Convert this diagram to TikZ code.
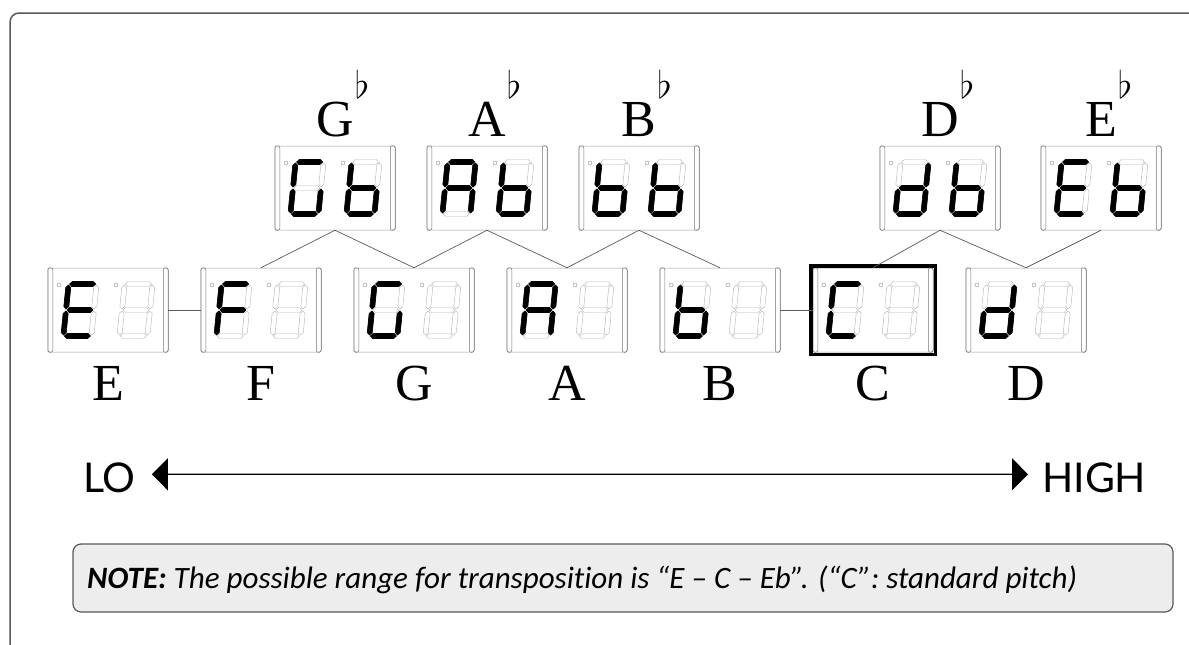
\documentclass[tikz,border=0pt]{standalone}
\usepackage{fix-cm}
\usepackage{fontspec}
\setmainfont{Liberation Serif}
\newfontfamily\rangefont{Lato}
\newfontfamily\notefont[Ligatures=NoCommon]{Carlito}
\usepackage{graphicx}
\usetikzlibrary{arrows.meta,calc}

\tikzset{
	dispbox/.style={draw=black!40, line width=0.5pt, rounded corners=2pt, minimum width=120pt, minimum height=84pt, inner sep=0pt},
	sidebar/.style={draw=black!55, line width=0.5pt, rounded corners=2pt},
	ledmark/.style={draw=black!45, line width=0.4pt},
	segoff/.style={draw=black!30, line width=0.4pt},
	segon/.style={draw=black, fill=black, line width=0.6pt, line join=round},
	link/.style={draw=black!65, line width=0.7pt},
	pitch/.style={font=\fontsize{52}{52}\selectfont, inner sep=0pt, anchor=base},
	rangetext/.style={font=\rangefont\fontsize{41}{41}\selectfont, inner sep=0pt, anchor=base west},
	pitchrange/.style={line width=1.2pt, {Triangle[length=16pt,width=32pt]}-{Triangle[length=16pt,width=32pt]}}
}

\def\hseg#1(#2,#3){\draw[#1] (#2-13,#3) -- (#2-10.5,#3-2.5) -- (#2+10.5,#3-2.5) -- (#2+13,#3) -- (#2+10.5,#3+2.5) -- (#2-10.5,#3+2.5) -- cycle;}
\def\vseg#1(#2,#3){\draw[#1] (#2,#3-12) -- (#2+2.5,#3-9.5) -- (#2+2.5,#3+9.5) -- (#2,#3+12) -- (#2-2.5,#3+9.5) -- (#2-2.5,#3-9.5) -- cycle;}
\def\sega#1{\hseg{#1}(0,-26)}
\def\segb#1{\vseg{#1}(14,-13)}
\def\segc#1{\vseg{#1}(14,13)}
\def\segd#1{\hseg{#1}(0,26)}
\def\sege#1{\vseg{#1}(-14,13)}
\def\segf#1{\vseg{#1}(-14,-13)}
\def\segg#1{\hseg{#1}(0,0)}
\def\segnone#1{}
\def\leddigit(#1,#2)#3{%
	\begin{scope}[shift={(#1,#2)}, xslant=0.1]
		\foreach \s in {a,b,c,d,e,f,g} {\csname seg\s\endcsname{segoff}}
		\foreach \s in {#3} {\csname seg\s\endcsname{segon}}
	\end{scope}}
\def\display(#1)(#2,#3)#4#5{%
	\node[dispbox] (#1) at (#2,#3) {};
	\draw[sidebar] (#1.north west) rectangle ([xshift=5pt]#1.south west);
	\draw[sidebar] (#1.north east) rectangle ([xshift=-5pt]#1.south east);
	\draw[ledmark] (#2-49,#3-25) circle (2pt);
	\draw[ledmark] (#2+8,#3-25) circle (2pt);
	\leddigit(#2-28,#3){#4}
	\leddigit(#2+28,#3){#5}}
\def\flatsign{\rlap{\kern1pt\raisebox{38pt}{\fontsize{38}{38}\selectfont$\flat$}}}

\begin{document}
\begin{tikzpicture}[x=1pt, y=-1pt]
			%%%%% START %%%%%
			
			\useasboundingbox (0,0) rectangle (1189,645);
			\clip (0,0) rectangle (1189,645);
			\draw[line width=1.5pt, color=black!65, rounded corners=9pt] (10,13) rectangle (1240,700);
			
			% upper row: flats
			\display(dispGb)(335,188){a,c,d,e,f}{c,d,e,f,g}
			\display(dispAb)(487,188){a,b,c,e,f,g}{c,d,e,f,g}
			\display(dispBb)(639,188){c,d,e,f,g}{c,d,e,f,g}
			\display(dispDb)(940,188){b,c,d,e,g}{c,d,e,f,g}
			\display(dispEb)(1101,188){a,d,e,f,g}{c,d,e,f,g}
			
			\node[pitch] (lblGb) at (335,136) {G\flatsign};
			\node[pitch] (lblAb) at (487,136) {A\flatsign};
			\node[pitch] (lblBb) at (639,136) {B\flatsign};
			\node[pitch] (lblDb) at (940,136) {D\flatsign};
			\node[pitch] (lblEb) at (1101,136) {E\flatsign};
			
			% lower row: naturals
			\display(dispE)(108,310){a,d,e,f,g}{none}
			\display(dispF)(261,310){a,e,f,g}{none}
			\display(dispG)(414,310){a,c,d,e,f}{none}
			\display(dispA)(567,310){a,b,c,e,f,g}{none}
			\display(dispB)(720,310){c,d,e,f,g}{none}
			\display(dispC)(873,310){a,d,e,f}{none}
			\display(dispD)(1026,310){b,c,d,e,g}{none}
			\draw[line width=3.5pt] ([shift={(-2pt,2pt)}]dispC.north west) rectangle ([shift={(2pt,-2pt)}]dispC.south east);
			
			\node[pitch] (lblE) at (108,400) {E};
			\node[pitch] (lblF) at (261,400) {F};
			\node[pitch] (lblG) at (414,400) {G};
			\node[pitch] (lblA) at (567,400) {A};
			\node[pitch] (lblB) at (720,400) {B};
			\node[pitch] (lblC) at (873,400) {C};
			\node[pitch] (lblD) at (1026,400) {D};
			
			% steps
			\draw[link] (dispE) -- (dispF);
			\draw[link] (dispB) -- (dispC);
			\draw[link] (dispF.north) -- (dispGb.south) -- (dispG.north);
			\draw[link] (dispG.north) -- (dispAb.south) -- (dispA.north);
			\draw[link] (dispA.north) -- (dispBb.south) -- (dispB.north);
			\draw[link] (dispC.north) -- (dispDb.south) -- (dispD.north);
			\draw[link] (dispD.north) -- (dispEb.south);
			
			% range
			\node[rangetext] (lo) at (83,492) {LO};
			\node[rangetext] (high) at (1042,492) {HIGH};
			\draw[pitchrange] ([xshift=16pt,yshift=3pt]lo.east) -- ([xshift=-14pt,yshift=3pt]high.west);
			
			% note
			\draw[line width=1.2pt, color=black!65, fill=black!7, rounded corners=8pt] (73,544) rectangle (1173,612);
			\node[anchor=base west, inner sep=0pt] (note) at (87,588) {\resizebox{990pt}{!}{\notefont\itshape\fontsize{28}{28}\selectfont\textbf{NOTE:} The possible range for transposition is “E – C – Eb”. (“C”: standard pitch)}};
			
			%%%%% END %%%%%
		\end{tikzpicture}
\end{document}
